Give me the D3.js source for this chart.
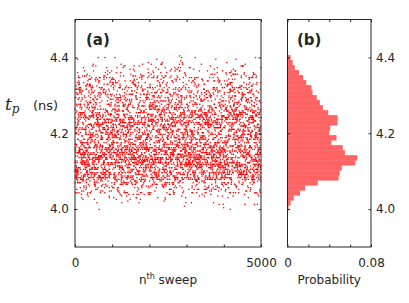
<!DOCTYPE html>
<html>
<head>
<meta charset="utf-8">
<script src="https://cdn.jsdelivr.net/npm/d3@7"></script>
<style>
  body { margin: 0; background: #fff; }
  text { font-family: "DejaVu Sans", sans-serif; fill: #262626; }
</style>
</head>
<body>
<div class="svg-mount"></div>
<script>
const nSweeps = 5000;

// histogram of t_p, read bottom (4.0 ns) to top (4.41 ns)
const binStart = 3.997;
const binWidth = 0.0132;
const probs = [
  0.001, 0.003, 0.006, 0.012, 0.017, 0.029, 0.049, 0.050, 0.052, 0.065,
  0.067, 0.055, 0.053, 0.042, 0.047, 0.040, 0.041, 0.048, 0.048, 0.039,
  0.034, 0.031, 0.028, 0.024, 0.023, 0.018, 0.015, 0.011, 0.007, 0.005,
  0.003,
];

const yTicks = [4.0, 4.2, 4.4];
const sweepTicks = [0, 1000, 2000, 3000, 4000, 5000];
const sweepLabels = [0, 5000];
const probTicks = [0, 0.02, 0.04, 0.06, 0.08];
const probLabels = [0, 0.08];

const width = 409;
const height = 303;
const axisColor = "#262626";

const x = d3.scaleLinear().domain([0, nSweeps]).range([75, 261]);
const xp = d3.scaleLinear().domain([0, 0.08]).range([287.5, 371]);
const y = d3.scaleLinear().domain([3.9, 4.5]).range([247, 19.5]);

const svg = d3
  .select(".svg-mount")
  .append("svg")
  .attr("width", width)
  .attr("height", height);

// sweep samples: every sweep n gets the value at its rank in the histogram's
// cumulative distribution; ranks are spread over the sweeps with a cubic Weyl order
const total = d3.sum(probs);
const cum = d3.cumsum(probs).map((c) => c / total);
const step = binWidth / 3; // readout resolution, gives the faint horizontal bands
function valueAtRank(u) {
  let k = d3.bisectRight(cum, u);
  if (k >= probs.length) k = probs.length - 1;
  const lo = k === 0 ? 0 : cum[k - 1];
  const f = (u - lo) / (cum[k] - lo);
  const v = binStart + (k + f) * binWidth;
  return binStart + Math.floor((v - binStart) / step) * step + step / 2;
}
function rank(n) {
  const a = (n * n * n * 0.0002360679) % 1;
  const b = (n * n * Math.SQRT2) % 1;
  return (a + b + n * 0.381966) % 1;
}
const samples = d3.range(nSweeps).map((n) => ({ n: n, tp: valueAtRank(rank(n)) }));

// (a) scatter
svg
  .append("g")
  .selectAll("rect")
  .data(samples)
  .enter()
  .append("rect")
  .attr("x", (d) => x(d.n) - 0.65)
  .attr("y", (d) => y(d.tp) - 0.65)
  .attr("width", 1.3)
  .attr("height", 1.3)
  .attr("fill", "#ff0000");

// (b) horizontal histogram
svg
  .append("g")
  .selectAll("rect")
  .data(probs)
  .enter()
  .append("rect")
  .attr("x", xp(0))
  .attr("y", (d, i) => y(binStart + (i + 1) * binWidth))
  .attr("width", (d) => xp(d) - xp(0))
  .attr("height", y(binStart) - y(binStart + binWidth) + 0.4)
  .attr("fill", "#ff6464");

function styleAxis(g) {
  g.select(".domain").remove();
  g.selectAll("line").attr("stroke", axisColor);
  g.selectAll("text")
    .attr("fill", axisColor)
    .style("font-size", "12px")
    .style("font-family", "DejaVu Sans, sans-serif");
}

function drawPanel(xs, ticksX, labelsX, fmtX, labelSide) {
  const [x0, x1] = xs.range();
  const [y0, y1] = y.range();
  const fx = (d) => (labelsX.includes(d) ? fmtX(d) : "");
  // bottom
  svg.append("g")
    .attr("transform", `translate(0,${y0})`)
    .call(d3.axisBottom(xs).tickValues(ticksX).tickSizeInner(-2.5).tickSizeOuter(0).tickPadding(11).tickFormat(fx))
    .call(styleAxis);
  // top
  svg.append("g")
    .attr("transform", `translate(0,${y1})`)
    .call(d3.axisTop(xs).tickValues(ticksX).tickSizeInner(-2.5).tickSizeOuter(0).tickFormat(""))
    .call(styleAxis);
  // left
  svg.append("g")
    .attr("transform", `translate(${x0},0)`)
    .call(d3.axisLeft(y).tickValues(yTicks).tickSizeInner(-2.5).tickSizeOuter(0).tickPadding(6)
      .tickFormat(labelSide === "left" ? d3.format(".1f") : ""))
    .call(styleAxis);
  // right
  svg.append("g")
    .attr("transform", `translate(${x1},0)`)
    .call(d3.axisRight(y).tickValues(yTicks).tickSizeInner(-2.5).tickSizeOuter(0).tickPadding(5)
      .tickFormat(labelSide === "right" ? d3.format(".1f") : ""))
    .call(styleAxis);
  svg.append("rect")
    .attr("x", x0)
    .attr("y", y1)
    .attr("width", x1 - x0)
    .attr("height", y0 - y1)
    .attr("fill", "none")
    .attr("stroke", axisColor)
    .attr("stroke-width", 1);
}

drawPanel(x, sweepTicks, sweepLabels, d3.format("d"), "left");
drawPanel(xp, probTicks, probLabels, (d) => (d === 0 ? "0" : d3.format(".2f")(d)), "right");

// panel tags
svg.append("text").attr("x", 86).attr("y", 45)
  .style("font-size", "15px").style("font-weight", "bold").attr("fill", "#000").text("(a)");
svg.append("text").attr("x", 297).attr("y", 45)
  .style("font-size", "15px").style("font-weight", "bold").attr("fill", "#000").text("(b)");

// axis titles
const xt = svg.append("text")
  .attr("x", (x.range()[0] + x.range()[1]) / 2)
  .attr("y", 284)
  .attr("text-anchor", "middle")
  .style("font-size", "12px");
xt.append("tspan").text("n");
xt.append("tspan").attr("dy", -5).style("font-size", "8px").text("th");
xt.append("tspan").attr("dy", 5).text(" sweep");

const yt = svg.append("text").attr("x", 5).attr("y", 110).style("font-size", "13px");
yt.append("tspan")
  .style("font-family", "DejaVu Serif, serif").style("font-style", "italic").style("font-size", "17px")
  .text("t");
yt.append("tspan")
  .attr("dy", 3)
  .style("font-family", "DejaVu Serif, serif").style("font-style", "italic").style("font-size", "12px")
  .text("p");
yt.append("tspan").attr("x", 33).attr("dy", -3).text("(ns)");

svg.append("text")
  .attr("x", (xp.range()[0] + xp.range()[1]) / 2)
  .attr("y", 284)
  .attr("text-anchor", "middle")
  .style("font-size", "12px")
  .text("Probability");
</script>
</body>
</html>
